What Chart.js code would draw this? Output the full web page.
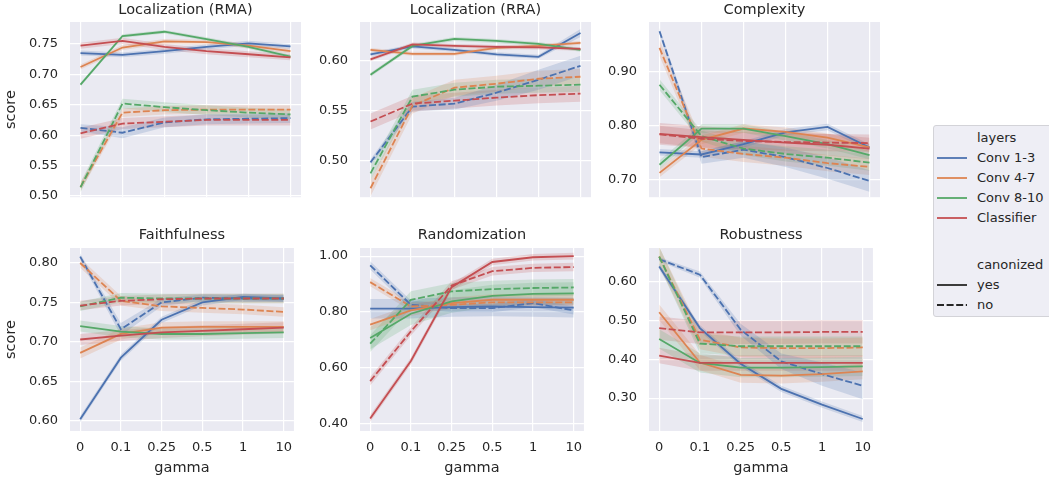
<!DOCTYPE html>
<html>
<head>
<meta charset="utf-8">
<script src="https://cdn.jsdelivr.net/npm/chart.js@4.4.1/dist/chart.umd.min.js"></script>
<style>
  body { margin: 0; width: 1049px; height: 479px; overflow: hidden; background: #fff; position: relative; font-family: 'DejaVu Sans', sans-serif; }
  canvas { position: absolute; }
  #legend { position: absolute; left: 933px; top: 125px; width: 130px; height: 190px; background: rgba(234, 234, 242, 0.8); border: 1px solid #d3d3d8; border-radius: 3px; }
  .row { position: absolute; left: 0; height: 16px; font-size: 13px; line-height: 16px; color: #262626; white-space: nowrap; }
  .row svg { position: absolute; left: 3px; top: 0; }
  .row span { position: absolute; left: 43px; top: 0; }
</style>
</head>
<body>
<div id="legend"></div>
<script>
// x categories and series names
const gammaLabels = ['0', '0.1', '0.25', '0.5', '1', '10'];
const layerNames = ['Conv 1-3', 'Conv 4-7', 'Conv 8-10', 'Classifier'];
const canonNames = ['yes', 'no'];
const layerColors = ['#4C72B0', '#DD8452', '#55A868', '#C44E52'];

// Localization (RMA) - rows are layers, columns are gammas
const rmaYes = [
  [0.735, 0.732, 0.738, 0.745, 0.751, 0.746],
  [0.712, 0.744, 0.754, 0.753, 0.747, 0.738],
  [0.683, 0.763, 0.770, 0.758, 0.745, 0.729],
  [0.747, 0.755, 0.745, 0.738, 0.733, 0.728]
];
const rmaNo = [
  [0.612, 0.604, 0.621, 0.626, 0.627, 0.628],
  [0.515, 0.637, 0.641, 0.642, 0.642, 0.642],
  [0.514, 0.652, 0.646, 0.641, 0.637, 0.634],
  [0.603, 0.619, 0.622, 0.625, 0.625, 0.625]
];
const rmaYesCi = [0.004, 0.004, 0.003, 0.005];
const rmaNoCi = [[0.006, 0.009, 0.008, 0.008, 0.008, 0.008], 0.007, 0.008, 0.009];

// Localization (RRA)
const rraYes = [
  [0.6065, 0.6145, 0.611, 0.6065, 0.604, 0.628],
  [0.611, 0.607, 0.607, 0.613, 0.615, 0.618],
  [0.586, 0.615, 0.622, 0.620, 0.617, 0.611],
  [0.6015, 0.6165, 0.615, 0.614, 0.6135, 0.612]
];
const rraNo = [
  [0.498, 0.554, 0.557, 0.568, 0.581, 0.595],
  [0.472, 0.555, 0.573, 0.577, 0.582, 0.584],
  [0.487, 0.564, 0.571, 0.574, 0.575, 0.576],
  [0.539, 0.557, 0.560, 0.563, 0.5655, 0.567]
];
const rraYesCi = [[0.002, 0.002, 0.002, 0.002, 0.002, 0.004], 0.002, 0.002, 0.002];
const rraNoCi = [[0.003, 0.005, 0.006, 0.008, 0.010, 0.010], 0.008, 0.007, 0.008];

// Complexity
const cxYes = [
  [0.751, 0.747, 0.766, 0.788, 0.798, 0.760],
  [0.713, 0.774, 0.795, 0.789, 0.778, 0.760],
  [0.728, 0.795, 0.795, 0.781, 0.766, 0.746],
  [0.785, 0.779, 0.774, 0.769, 0.765, 0.758]
];
const cxNo = [
  [0.975, 0.742, 0.756, 0.742, 0.722, 0.698],
  [0.944, 0.758, 0.748, 0.741, 0.731, 0.724],
  [0.876, 0.781, 0.758, 0.748, 0.741, 0.732],
  [0.784, 0.776, 0.772, 0.770, 0.769, 0.768]
];
const cxYesCi = [0.006, 0.008, 0.008, 0.02];
const cxNoCi = [[0.006, 0.012, 0.015, 0.018, 0.02, 0.02], 0.015, [0.01, 0.01, 0.012, 0.014, 0.015, 0.015], 0.016];

// Faithfulness
const faYes = [
  [0.602, 0.680, 0.728, 0.750, 0.757, 0.755],
  [0.686, 0.710, 0.718, 0.719, 0.719, 0.719],
  [0.720, 0.713, 0.710, 0.710, 0.711, 0.712],
  [0.703, 0.708, 0.712, 0.714, 0.716, 0.718]
];
const faNo = [
  [0.808, 0.716, 0.750, 0.756, 0.755, 0.755],
  [0.800, 0.752, 0.745, 0.743, 0.741, 0.738],
  [0.745, 0.756, 0.755, 0.755, 0.755, 0.755],
  [0.746, 0.752, 0.754, 0.755, 0.755, 0.755]
];
const faYesCi = [0.004, 0.007, 0.007, 0.007];
const faNoCi = [[0.004, 0.008, 0.005, 0.004, 0.004, 0.004], 0.006, 0.006, 0.006];

// Randomization
const rdYes = [
  [0.812, 0.812, 0.818, 0.820, 0.818, 0.816],
  [0.755, 0.806, 0.832, 0.844, 0.844, 0.844],
  [0.707, 0.794, 0.838, 0.858, 0.865, 0.867],
  [0.420, 0.625, 0.889, 0.979, 0.996, 1.000]
];
const rdNo = [
  [0.967, 0.826, 0.814, 0.814, 0.832, 0.806],
  [0.907, 0.820, 0.826, 0.835, 0.835, 0.835],
  [0.687, 0.844, 0.874, 0.882, 0.886, 0.888],
  [0.553, 0.731, 0.895, 0.946, 0.958, 0.961]
];
const rdYesCi = [0.035, 0.02, 0.04, 0.012];
const rdNoCi = [0.015, 0.015, 0.03, 0.015];

// Robustness
const rbYes = [
  [0.640, 0.481, 0.389, 0.324, 0.283, 0.246],
  [0.522, 0.392, 0.360, 0.358, 0.362, 0.369],
  [0.453, 0.391, 0.379, 0.379, 0.380, 0.382],
  [0.410, 0.391, 0.391, 0.391, 0.391, 0.391]
];
const rbNo = [
  [0.659, 0.619, 0.477, 0.395, 0.362, 0.332],
  [0.666, 0.451, 0.431, 0.429, 0.429, 0.431],
  [0.666, 0.441, 0.434, 0.434, 0.434, 0.434],
  [0.481, 0.470, 0.470, 0.470, 0.471, 0.471]
];
const rbYesCi = [0.008, 0.02, 0.025, 0.02];
const rbNoCi = [[0.005, 0.008, 0.015, 0.02, 0.03, 0.035], 0.025, 0.025, 0.03];

// y tick labels per panel
const rmaTicks = [0.50, 0.55, 0.60, 0.65, 0.70, 0.75];
const rraTicks = [0.50, 0.55, 0.60];
const cxTicks = [0.70, 0.80, 0.90];
const faTicks = [0.60, 0.65, 0.70, 0.75, 0.80];
const rdTicks = [0.40, 0.60, 0.80, 1.00];
const rbTicks = [0.30, 0.40, 0.50, 0.60];

const panels = [
  { title: 'Localization (RMA)', yes: rmaYes, no: rmaNo, yesCi: rmaYesCi, noCi: rmaNoCi, ticks: rmaTicks, min: 0.498, max: 0.786 },
  { title: 'Localization (RRA)', yes: rraYes, no: rraNo, yesCi: rraYesCi, noCi: rraNoCi, ticks: rraTicks, min: 0.463, max: 0.639 },
  { title: 'Complexity', yes: cxYes, no: cxNo, yesCi: cxYesCi, noCi: cxNoCi, ticks: cxTicks, min: 0.668, max: 0.992 },
  { title: 'Faithfulness', yes: faYes, no: faNo, yesCi: faYesCi, noCi: faNoCi, ticks: faTicks, min: 0.587, max: 0.819 },
  { title: 'Randomization', yes: rdYes, no: rdNo, yesCi: rdYesCi, noCi: rdNoCi, ticks: rdTicks, min: 0.375, max: 1.029 },
  { title: 'Robustness', yes: rbYes, no: rbNo, yesCi: rbYesCi, noCi: rbNoCi, ticks: rbTicks, min: 0.215, max: 0.688 }
];

const FONT = "'DejaVu Sans', sans-serif";
const TEXT = '#262626';
const colLefts = [70, 360, 649];
const rowTops = [22, 248];
const plotW = 231, plotH = 183, axisW = 70, titleH = 22;

const plotBg = {
  id: 'plotBg',
  beforeDraw(chart) {
    const { ctx, chartArea: a } = chart;
    ctx.save();
    ctx.fillStyle = '#EAEAF2';
    ctx.fillRect(a.left, a.top, a.right - a.left, a.bottom - a.top);
    ctx.restore();
  }
};

// title centred over the plot area (the built-in one centres over the whole canvas)
const panelTitle = {
  id: 'panelTitle',
  afterDraw(chart, args, opts) {
    const { ctx, chartArea: a } = chart;
    ctx.save();
    ctx.font = '14.5px ' + FONT;
    ctx.fillStyle = TEXT;
    ctx.textAlign = 'center';
    ctx.textBaseline = 'middle';
    ctx.fillText(opts.text, (a.left + a.right) / 2, a.top - opts.offset);
    ctx.restore();
  }
};

function rgba(hex, a) {
  const n = parseInt(hex.slice(1), 16);
  return `rgba(${n >> 16}, ${(n >> 8) & 255}, ${n & 255}, ${a})`;
}

function ciAt(ci, i) {
  return Array.isArray(ci) ? ci[i] : ci;
}

function buildDatasets(p) {
  const bands = [];
  const lines = [];
  layerNames.forEach((name, li) => {
    const color = layerColors[li];
    [['yes', p.yes[li], p.yesCi[li]], ['no', p.no[li], p.noCi[li]]].forEach(([canon, vals, ci]) => {
      bands.push({
        data: vals.map((v, i) => ({ x: i, y: v - ciAt(ci, i) })),
        borderWidth: 0, pointRadius: 0, fill: false, order: 1
      });
      bands.push({
        data: vals.map((v, i) => ({ x: i, y: v + ciAt(ci, i) })),
        borderWidth: 0, pointRadius: 0, fill: '-1', order: 1,
        backgroundColor: rgba(color, 0.2)
      });
      // first dataset is drawn on top, so put later series first
      lines.unshift({
        label: name + ' ' + canon,
        data: vals.map((v, i) => ({ x: i, y: v })),
        borderColor: color, borderWidth: 1.8,
        borderDash: canon === 'no' ? [7, 2.6] : [],
        pointRadius: 0, fill: false, tension: 0, order: 0
      });
    });
  });
  return bands.concat(lines);
}

panels.forEach((p, k) => {
  const col = k % 3, row = Math.floor(k / 3);
  const bottomRow = row === 1;
  const extra = bottomRow ? 48 : 12;
  const canvas = document.createElement('canvas');
  canvas.width = axisW + plotW;
  canvas.height = titleH + plotH + extra;
  canvas.style.left = (colLefts[col] - axisW) + 'px';
  canvas.style.top = (rowTops[row] - titleH) + 'px';
  document.body.appendChild(canvas);

  new Chart(canvas.getContext('2d'), {
    type: 'line',
    data: { datasets: buildDatasets(p) },
    plugins: [plotBg, panelTitle],
    options: {
      responsive: false,
      animation: false,
      layout: { padding: { top: titleH } },
      plugins: {
        legend: { display: false },
        tooltip: { enabled: false },
        panelTitle: { text: p.title, offset: bottomRow ? 12.5 : 11.5 }
      },
      scales: {
        x: {
          type: 'linear', min: -0.25, max: 5.25,
          afterBuildTicks: s => { s.ticks = gammaLabels.map((g, i) => ({ value: i })); },
          afterFit: s => { s.height = extra; },
          grid: { color: '#ffffff', lineWidth: 1.2, drawTicks: false },
          border: { display: false },
          ticks: {
            display: bottomRow, autoSkip: false, maxRotation: 0, padding: 9,
            color: TEXT, font: { family: FONT, size: 13 },
            callback: v => gammaLabels[v]
          },
          title: {
            display: bottomRow, text: 'gamma', color: TEXT,
            font: { family: FONT, size: 14.5 }, padding: { top: 0, bottom: 2 }
          }
        },
        y: {
          type: 'linear', min: p.min, max: p.max,
          afterBuildTicks: s => { s.ticks = p.ticks.map(v => ({ value: v })); },
          afterFit: s => { s.width = axisW; },
          grid: { color: '#ffffff', lineWidth: 1.2, drawTicks: false },
          border: { display: false },
          ticks: {
            padding: 12, color: TEXT, font: { family: FONT, size: 13 },
            callback: v => v.toFixed(2)
          },
          title: {
            display: col === 0, text: 'score', color: TEXT,
            font: { family: FONT, size: 14.5 }, padding: { top: 3, bottom: 0 }
          }
        }
      }
    }
  });
});

// legend, seaborn style: hue block then style block
const legend = document.getElementById('legend');
function legendRow(y, label, color, dashed) {
  const div = document.createElement('div');
  div.className = 'row';
  div.style.top = (y - 8) + 'px';
  if (color) {
    div.innerHTML = `<svg width="32" height="16"><line x1="0" y1="8" x2="30" y2="8" stroke="${color}" stroke-width="1.8"${dashed ? ' stroke-dasharray="7 2.6"' : ''}/></svg>`;
  }
  const span = document.createElement('span');
  span.textContent = label;
  div.appendChild(span);
  legend.appendChild(div);
}
legendRow(12, 'layers');
layerNames.forEach((n, i) => legendRow(32 + i * 20, n, layerColors[i], false));
legendRow(139, 'canonized');
canonNames.forEach((n, i) => legendRow(159 + i * 20, n, '#262626', i === 1));
</script>
</body>
</html>
